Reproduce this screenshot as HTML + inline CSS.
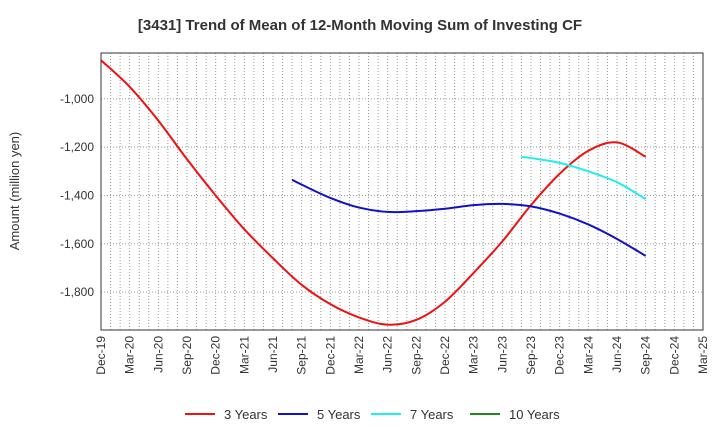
<!DOCTYPE html>
<html><head><meta charset="utf-8"><style>
body{margin:0;background:#fff;font-family:"Liberation Sans",sans-serif}
</style></head><body>
<svg id="c" width="720" height="440" xmlns="http://www.w3.org/2000/svg" font-family="Liberation Sans, sans-serif">
<text x="360" y="30" text-anchor="middle" font-size="15" font-weight="bold" fill="#333">[3431]  Trend of Mean of 12-Month Moving Sum of Investing CF</text>
<text transform="translate(19,191) rotate(-90)" text-anchor="middle" font-size="13" fill="#333">Amount (million yen)</text>
<g id="grid"></g><g id="axes"></g><g id="series"></g><g id="legend"></g>
</svg>
<script>
const xLabels=["Dec-19","Mar-20","Jun-20","Sep-20","Dec-20","Mar-21","Jun-21","Sep-21","Dec-21","Mar-22","Jun-22","Sep-22","Dec-22","Mar-23","Jun-23","Sep-23","Dec-23","Mar-24","Jun-24","Sep-24","Dec-24","Mar-25"];
const yTicks=[-1000,-1200,-1400,-1600,-1800];
const yTickLabels=["-1,000","-1,200","-1,400","-1,600","-1,800"];
const seriesNames=["3 Years","5 Years","7 Years","10 Years"];
const seriesColors=["#ee1111","#1111cc","#22eeee","#228822"];
// months since Dec-19
const s3Months=[0,3,6,9,12,15,18,21,24,27,30,33,36,39,42,45,48,51,54,57];
const s3=[-840,-950,-1090,-1250,-1400,-1540,-1660,-1770,-1850,-1905,-1935,-1915,-1840,-1720,-1590,-1440,-1310,-1215,-1180,-1240];
const s5Months=[20,21,24,27,30,33,36,39,42,45,48,51,54,57];
const s5=[-1335,-1355,-1410,-1450,-1468,-1465,-1455,-1440,-1435,-1445,-1475,-1520,-1580,-1650];
const s7Months=[44,45,48,51,54,57];
const s7=[-1240,-1245,-1265,-1300,-1345,-1415];
const s10Months=[];
const s10=[];
const L=101,R=703,T=53,B=330,yMin=-1957,yMax=-810;
const ns="http://www.w3.org/2000/svg";
const xm=m=>L+(R-L)*m/63;
const xq=i=>xm(i*3);
const y=v=>T+(B-T)*(yMax-v)/(yMax-yMin);
function mk(p,t,a){const e=document.createElementNS(ns,t);for(const k in a)e.setAttribute(k,a[k]);p.appendChild(e);return e;}
const grid=document.getElementById('grid'),axes=document.getElementById('axes'),ser=document.getElementById('series'),leg=document.getElementById('legend');
for(let m=1;m<63;m++){const x=xm(m);const g=mk(grid,'line',{x1:x,x2:x,y1:T,y2:B,stroke:'#999','stroke-dasharray':'1,2','stroke-width':1});

}
yTicks.forEach((v,i)=>{const g=mk(grid,'line',{x1:L,x2:R,y1:y(v),y2:y(v),stroke:'#999','stroke-dasharray':'1,2'});


const t=mk(axes,'text',{x:L-7,y:y(v)+4,'text-anchor':'end','font-size':12,fill:'#333'});t.textContent=yTickLabels[i];

});
const fr=mk(axes,'rect',{x:L,y:T,width:R-L,height:B-T,fill:'none',stroke:'#333'});


xLabels.forEach((l,i)=>{const x=xq(i);const t=mk(axes,'text',{transform:`translate(${x+4},${B+6}) rotate(-90)`,'text-anchor':'end','font-size':12,fill:'#333'});t.textContent=l;

});
function path(vals,months){if(vals.length<2)return '';const p=vals.map((v,i)=>[xm(months[i]),y(v)]);let d=`M${p[0][0]},${p[0][1]}`;
for(let i=0;i<p.length-1;i++){const p0=p[i-1]||p[i],p1=p[i],p2=p[i+1],p3=p[i+2]||p2;
d+=` C${p1[0]+(p2[0]-p0[0])/6},${p1[1]+(p2[1]-p0[1])/6} ${p2[0]-(p3[0]-p1[0])/6},${p2[1]-(p3[1]-p1[1])/6} ${p2[0]},${p2[1]}`;}return d;}
[[s3,s3Months],[s5,s5Months],[s7,s7Months],[s10,s10Months]].forEach((s,k)=>{const d=path(s[0],s[1]);if(!d)return;
const e=mk(ser,'path',{d:d,fill:'none',stroke:seriesColors[k],'stroke-width':2});

});
const lx=[185,278,371,470];
seriesNames.forEach((n,k)=>{const g=mk(leg,'g',{});


mk(g,'line',{x1:lx[k],x2:lx[k]+30,y1:414,y2:414,stroke:seriesColors[k],'stroke-width':2});
const t=mk(g,'text',{x:lx[k]+39,y:419,'font-size':13,fill:'#333'});t.textContent=n;});
</script>
</body></html>
